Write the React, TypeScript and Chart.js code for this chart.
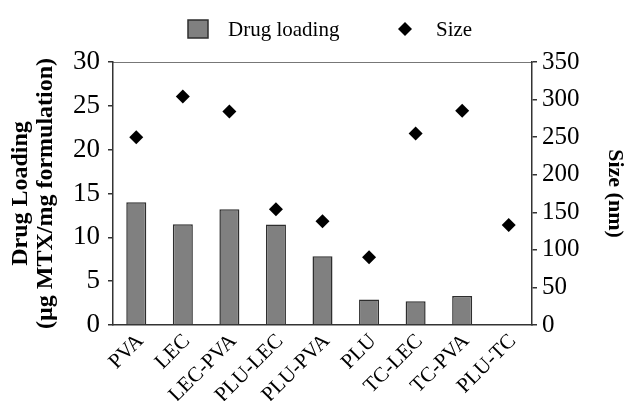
import React, { useEffect, useRef } from "react";
import { Chart, registerables } from "chart.js";

Chart.register(...registerables);

// Formulations on the category axis
const formulations = [
  "PVA",
  "LEC",
  "LEC-PVA",
  "PLU-LEC",
  "PLU-PVA",
  "PLU",
  "TC-LEC",
  "TC-PVA",
  "PLU-TC",
];

// Drug loading (µg MTX / mg formulation); no bar for PLU-TC
const drugLoading: (number | null)[] = [14.0, 11.5, 13.2, 11.45, 7.85, 2.9, 2.7, 3.3, null];

// Particle size (nm)
const particleSize = [250, 304, 284, 154, 138, 90, 255, 285, 133];

// Axis ranges
const loadingAxis = { min: 0, max: 30, step: 5 };
const sizeAxis = { min: 0, max: 350, step: 50 };

const SERIF = "'Liberation Serif', 'Times New Roman', serif";
const BAR_FILL = "#808080";
const BAR_EDGE = "#2e2e2e";
const AXIS = "#333333";

// Legend row drawn across the top of the canvas
const topLegend = {
  id: "topLegend",
  afterDraw(chart: Chart) {
    const { ctx } = chart;
    const ds = chart.data.datasets;
    const cy = 29;
    ctx.save();
    ctx.font = `21px ${SERIF}`;
    ctx.textBaseline = "middle";
    ctx.textAlign = "left";

    // bar swatch
    ctx.fillStyle = BAR_FILL;
    ctx.strokeStyle = BAR_EDGE;
    ctx.lineWidth = 1.5;
    ctx.fillRect(188, cy - 9, 20, 18);
    ctx.strokeRect(188, cy - 9, 20, 18);
    ctx.fillStyle = "#000";
    ctx.fillText(String(ds[0].label), 228, cy + 1);

    // diamond marker
    ctx.beginPath();
    ctx.moveTo(405, cy - 7);
    ctx.lineTo(412, cy);
    ctx.lineTo(405, cy + 7);
    ctx.lineTo(398, cy);
    ctx.closePath();
    ctx.fill();
    ctx.fillText(String(ds[1].label), 436, cy + 1);
    ctx.restore();
  },
};

export default function App() {
  const canvasRef = useRef<HTMLCanvasElement | null>(null);

  useEffect(() => {
    if (!canvasRef.current) return;
    const chart = new Chart(canvasRef.current, {
      type: "bar",
      data: {
        labels: formulations,
        datasets: [
          {
            type: "bar",
            label: "Drug loading",
            data: drugLoading,
            backgroundColor: BAR_FILL,
            borderColor: BAR_EDGE,
            borderWidth: 1.5,
            barPercentage: 0.43,
            categoryPercentage: 1,
            xAxisID: "x",
            yAxisID: "y",
            order: 2,
          },
          {
            type: "line",
            label: "Size",
            data: particleSize,
            showLine: false,
            pointStyle: "rectRot",
            pointRadius: 7,
            pointHoverRadius: 7,
            pointBackgroundColor: "#000",
            pointBorderColor: "#000",
            pointBorderWidth: 0,
            xAxisID: "x",
            yAxisID: "y1",
            order: 1,
          },
        ],
      },
      options: {
        responsive: false,
        animation: false,
        devicePixelRatio: 1,
        layout: { padding: { top: 62, left: 0, right: 0, bottom: 0 } },
        plugins: {
          legend: { display: false },
          tooltip: { enabled: false },
        },
        scales: {
          x: {
            type: "category",
            position: "bottom",
            grid: { display: false },
            border: { display: true, color: AXIS, width: 1.5 },
            ticks: {
              minRotation: 45,
              maxRotation: 45,
              padding: -4,
              labelOffset: 4,
              color: "#000",
              font: { family: SERIF, size: 21 },
            },
            afterFit(scale: any) {
              scale.height = 76;
            },
          },
          xTop: {
            type: "category",
            position: "top",
            grid: { display: false },
            border: { display: true, color: "#777", width: 1 },
            ticks: { display: false },
            afterFit(scale: any) {
              scale.height = 0;
            },
          },
          y: {
            type: "linear",
            position: "left",
            min: loadingAxis.min,
            max: loadingAxis.max,
            ticks: {
              stepSize: loadingAxis.step,
              padding: 8,
              color: "#000",
              font: { family: SERIF, size: 27 },
            },
            grid: {
              drawOnChartArea: false,
              drawTicks: true,
              tickLength: 5,
              color: AXIS,
              lineWidth: 1.5,
            },
            border: { display: true, color: AXIS, width: 1.5 },
            title: {
              display: true,
              text: ["Drug Loading", "(µg MTX/mg formulation)"],
              color: "#000",
              font: { family: SERIF, size: 24, weight: "bold", lineHeight: 1.05 },
              padding: { top: 8, bottom: 0 },
            },
            afterFit(scale: any) {
              scale.width = 113;
            },
          },
          y1: {
            type: "linear",
            position: "right",
            min: sizeAxis.min,
            max: sizeAxis.max,
            ticks: {
              stepSize: sizeAxis.step,
              padding: 5,
              color: "#000",
              font: { family: SERIF, size: 25 },
            },
            grid: {
              drawOnChartArea: false,
              drawTicks: true,
              tickLength: 5,
              color: AXIS,
              lineWidth: 1.5,
            },
            border: { display: true, color: AXIS, width: 1.5 },
            title: {
              display: true,
              text: "Size (nm)",
              color: "#000",
              font: { family: SERIF, size: 22, weight: "bold", lineHeight: 1.1 },
              padding: { top: 0, bottom: 0 },
            },
            afterFit(scale: any) {
              scale.width = 95;
            },
          },
        },
      },
      plugins: [topLegend],
    });
    return () => chart.destroy();
  }, []);

  return (
    <div style={{ position: "absolute", left: 0, top: 0, width: 627, height: 401, background: "#fff" }}>
      <canvas ref={canvasRef} width={627} height={401} />
    </div>
  );
}
